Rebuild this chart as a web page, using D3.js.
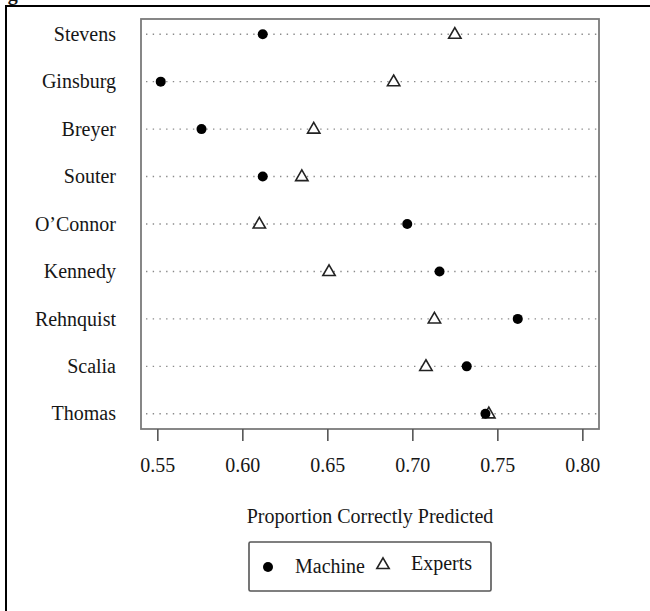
<!DOCTYPE html>
<html>
<head>
<meta charset="utf-8">
<script src="https://cdn.jsdelivr.net/npm/d3@7"></script>
<style>
	html, body { margin: 0; padding: 0; background: #fff; }
	svg text { font-family: "Liberation Serif", "DejaVu Serif", serif; fill: #161616; }
</style>
</head>
<body>
<div id="chart"></div>
<script>
// Justices, top to bottom, as drawn in the dot chart.
var justices = [ 'Stevens', 'Ginsburg', 'Breyer', 'Souter', 'O\u2019Connor', 'Kennedy', 'Rehnquist', 'Scalia', 'Thomas' ];

// Proportion of votes correctly predicted.
var machine = [ 0.612, 0.552, 0.576, 0.612, 0.697, 0.716, 0.762, 0.732, 0.743 ];
var experts = [ 0.725, 0.689, 0.642, 0.635, 0.610, 0.651, 0.713, 0.708, 0.745 ];

var xTicks = [ 0.55, 0.60, 0.65, 0.70, 0.75, 0.80 ];
var xLabel = 'Proportion Correctly Predicted';
var seriesNames = [ 'Machine', 'Experts' ];

( function () {

	var width = 650;
	var height = 611;

	// Plot box, in pixels.
	var box = { left: 141, right: 599, top: 19, bottom: 429 };

	var svg = d3.select( '#chart' ).append( 'svg' )
		.attr( 'width', width )
		.attr( 'height', height );

	// The page frame, cut off at the right and bottom.
	svg.append( 'rect' )
		.attr( 'x', 6 )
		.attr( 'y', 6 )
		.attr( 'width', 700 )
		.attr( 'height', 700 )
		.attr( 'fill', 'none' )
		.attr( 'stroke', '#000' )
		.attr( 'stroke-width', 2 );

	// What is left of the caption above the frame: only the descender shows.
	svg.append( 'text' )
		.attr( 'x', -10 )
		.attr( 'y', 0 )
		.attr( 'font-size', 20 )
		.attr( 'font-weight', 'bold' )
		.text( 'Figure' );

	// R pads the range by 4% on each side.
	var xScale = d3.scaleLinear()
		.domain( [ 0.5404, 0.8098 ] )
		.range( [ box.left, box.right ] );

	var yScale = d3.scaleLinear()
		.domain( [ 0.68, justices.length + 0.32 ] )
		.range( [ box.bottom, box.top ] );

	var rowY = function ( i ) { return yScale( justices.length - i ); };

	var rows = justices.map( function ( name, i ) {
		return { name: name, machine: machine[i], experts: experts[i], i: i };
	} );

	// Dotted guide lines.
	svg.append( 'g' )
		.selectAll( 'line' )
		.data( rows )
		.enter()
		.append( 'line' )
		.attr( 'x1', box.left + 5 )
		.attr( 'x2', box.right )
		.attr( 'y1', function ( d ) { return rowY( d.i ); } )
		.attr( 'y2', function ( d ) { return rowY( d.i ); } )
		.attr( 'stroke', '#8a8a8a' )
		.attr( 'stroke-width', 1.4 )
		.attr( 'stroke-dasharray', '1.4,5.3' );

	// Justice names.
	svg.append( 'g' )
		.selectAll( 'text' )
		.data( rows )
		.enter()
		.append( 'text' )
		.attr( 'x', 116 )
		.attr( 'y', function ( d ) { return rowY( d.i ); } )
		.attr( 'dy', '0.33em' )
		.attr( 'text-anchor', 'end' )
		.attr( 'font-size', 20 )
		.text( function ( d ) { return d.name; } );

	// Plot box.
	svg.append( 'rect' )
		.attr( 'x', box.left )
		.attr( 'y', box.top )
		.attr( 'width', box.right - box.left )
		.attr( 'height', box.bottom - box.top )
		.attr( 'fill', 'none' )
		.attr( 'stroke', '#7a7a7a' )
		.attr( 'stroke-width', 1.8 );

	// X axis.
	var xAxis = d3.axisBottom( xScale )
		.tickValues( xTicks )
		.tickFormat( d3.format( '.2f' ) )
		.tickSize( 12 )
		.tickPadding( 17 );

	var axis = svg.append( 'g' )
		.attr( 'transform', 'translate( 0, ' + box.bottom + ' )' )
		.call( xAxis );

	axis.select( '.domain' ).remove();
	axis.selectAll( '.tick line' )
		.attr( 'stroke', '#555' )
		.attr( 'stroke-width', 1.6 );
	axis.selectAll( '.tick text' )
		.attr( 'font-family', '"Liberation Serif", serif' )
		.attr( 'font-size', 20 )
		.attr( 'fill', '#161616' );

	svg.append( 'text' )
		.attr( 'x', ( box.left + box.right ) / 2 )
		.attr( 'y', 523 )
		.attr( 'text-anchor', 'middle' )
		.attr( 'font-size', 20 )
		.text( xLabel );

	var triangle = d3.symbol().type( d3.symbolTriangle ).size( 66 );

	// Expert predictions, open triangles.
	svg.append( 'g' )
		.selectAll( 'path' )
		.data( rows )
		.enter()
		.append( 'path' )
		.attr( 'd', triangle )
		.attr( 'transform', function ( d ) { return 'translate( ' + xScale( d.experts ) + ', ' + ( rowY( d.i ) + 0.5 ) + ' )'; } )
		.attr( 'fill', '#fff' )
		.attr( 'stroke', '#222' )
		.attr( 'stroke-width', 1.6 );

	// Machine predictions, filled circles.
	svg.append( 'g' )
		.selectAll( 'circle' )
		.data( rows )
		.enter()
		.append( 'circle' )
		.attr( 'cx', function ( d ) { return xScale( d.machine ); } )
		.attr( 'cy', function ( d ) { return rowY( d.i ); } )
		.attr( 'r', 5 )
		.attr( 'fill', '#000' );

	// Legend.
	var legend = svg.append( 'g' );

	legend.append( 'rect' )
		.attr( 'x', 249 )
		.attr( 'y', 542 )
		.attr( 'width', 242 )
		.attr( 'height', 49 )
		.attr( 'rx', 1.5 )
		.attr( 'fill', '#fff' )
		.attr( 'stroke', '#555' )
		.attr( 'stroke-width', 1.6 );

	legend.append( 'circle' )
		.attr( 'cx', 268 )
		.attr( 'cy', 567 )
		.attr( 'r', 5 )
		.attr( 'fill', '#000' );

	legend.append( 'text' )
		.attr( 'x', 295 )
		.attr( 'y', 573 )
		.attr( 'font-size', 20 )
		.text( seriesNames[0] );

	legend.append( 'path' )
		.attr( 'd', triangle )
		.attr( 'transform', 'translate( 383, 565 )' )
		.attr( 'fill', '#fff' )
		.attr( 'stroke', '#222' )
		.attr( 'stroke-width', 1.6 );

	legend.append( 'text' )
		.attr( 'x', 411 )
		.attr( 'y', 570 )
		.attr( 'font-size', 20 )
		.text( seriesNames[1] );

} )();
</script>
</body>
</html>
